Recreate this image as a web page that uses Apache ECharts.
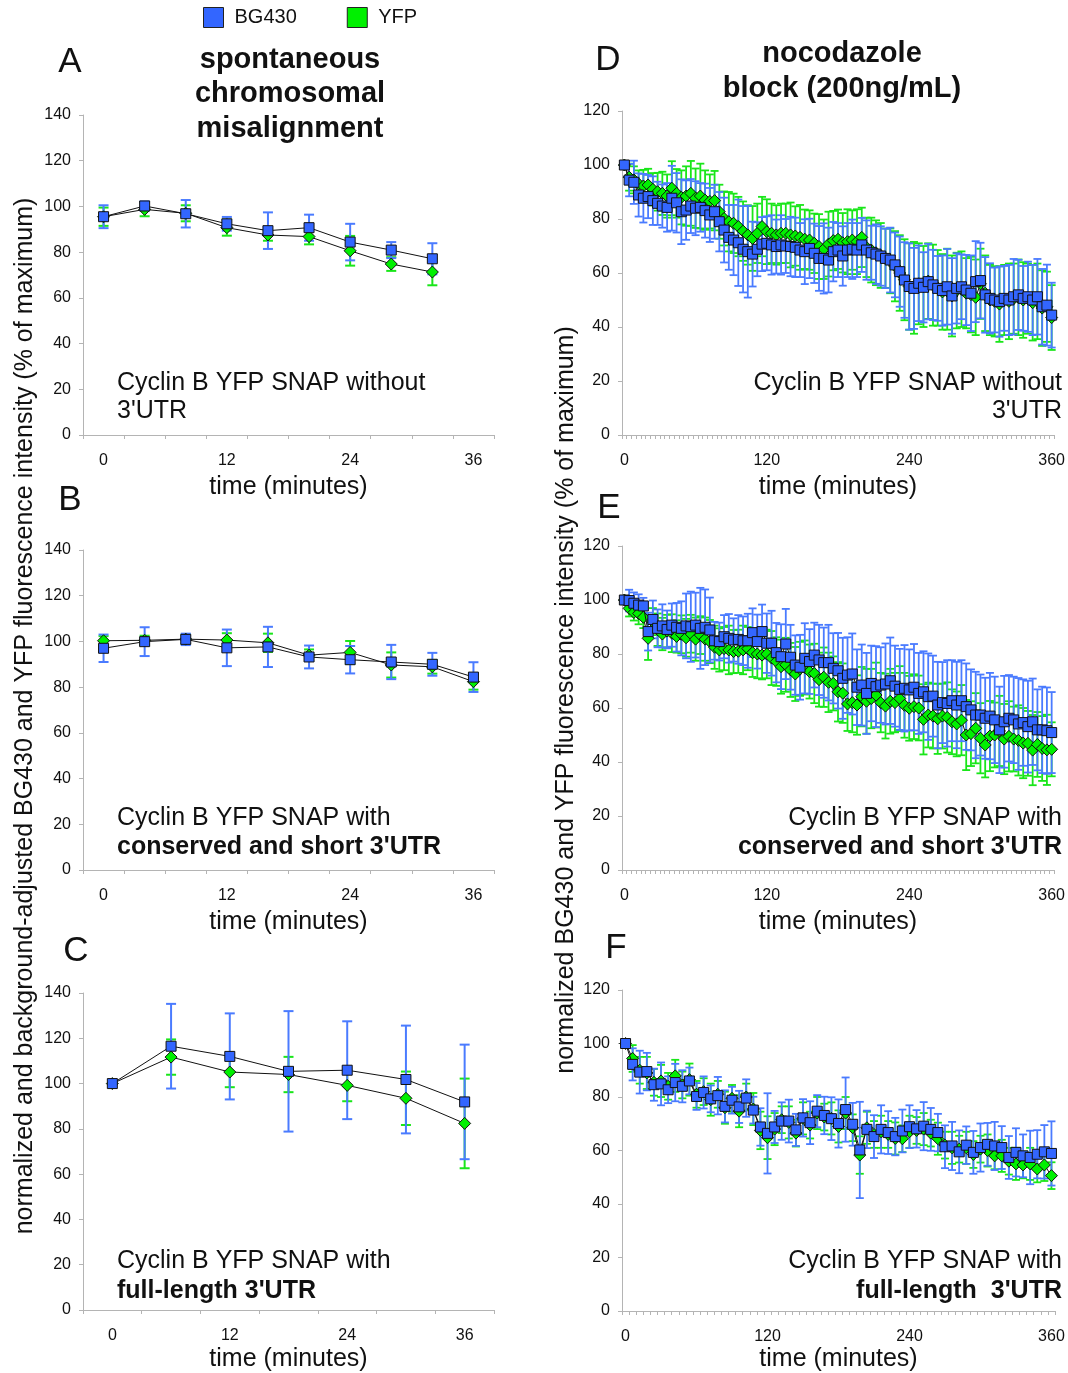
<!DOCTYPE html>
<html><head><meta charset="utf-8">
<script src="https://cdn.jsdelivr.net/npm/echarts@6/dist/echarts.min.js"></script>
<style>html,body{margin:0;padding:0;background:#fff}#c{width:1068px;height:1373px}</style>
</head><body><div id="c"></div><script>
// ---------- categories (tick labels) ----------
var timesAB = [0,4,8,12,16,20,24,28,32,36];
var timesC = [0,6,12,18,24,30,36];
var timesDE = [0,4,8,12,16,20,24,28,32,36,40,44,48,52,56,60,64,68,72,76,80,84,88,92,96,100,104,108,112,116,120,124,128,132,136,140,144,148,152,156,160,164,168,172,176,180,184,188,192,196,200,204,208,212,216,220,224,228,232,236,240,244,248,252,256,260,264,268,272,276,280,284,288,292,296,300,304,308,312,316,320,324,328,332,336,340,344,348,352,356,360];
var timesF = [0,6,12,18,24,30,36,42,48,54,60,66,72,78,84,90,96,102,108,114,120,126,132,138,144,150,156,162,168,174,180,186,192,198,204,210,216,222,228,234,240,246,252,258,264,270,276,282,288,294,300,306,312,318,324,330,336,342,348,354,360];

// ---------- panel A ----------
var blueA = [95.5,100.2,96.8,92.4,89.4,90.7,84.4,80.9,77.1];
var blueErrA = [5,2,6,3,8,5.7,8,3.5,6.8];
var greenA = [95.5,98.7,97,90.7,87.5,86.8,80.6,74.8,71.3];
var greenErrA = [4,3,3.5,3.5,2.5,3.4,6.5,3,5.8];
// ---------- panel B ----------
var blueB = [97,99.9,100.9,97.2,97.6,93.2,92,91,90,84.4];
var blueErrB = [6,6.3,2.5,8,8.8,5,6,7.5,5,6.5];
var greenB = [100.3,100.5,101,100.6,99.4,94,95.2,89.7,88.9,82.4];
var greenErrB = [2,2,2,3,4,2.5,5,5.5,3,3.5];
// ---------- panel C ----------
var blueC = [100,116.5,112,105.4,105.9,101.8,91.9];
var blueErrC = [0,18.7,19,26.6,21.6,23.8,25.3];
var greenC = [100,111.7,105.1,104,99.2,93.5,82.4];
var greenErrC = [0,7.8,6.7,7.8,7,11.8,19.8];
// ---------- panel D ----------
var blueD = [100,94.4,93.6,88.9,87.7,88.3,86.8,85.8,84.8,84.3,
87.7,86,82.7,83.3,84.8,84,84.3,83.1,81.5,82.7,
79,75.9,73.2,72.2,71.2,68.8,67.9,67,68.8,70.7,
71,70.4,69.8,70.4,70,69.8,69.5,68.5,67.9,69.1,
67.3,65.4,65.4,64.8,67.9,68.5,66.3,68.5,68.8,68.5,
70.4,68.5,67.5,67,66.3,65.4,64.8,63,60.5,57.4,
55,54.3,56.2,54.7,56.8,55.6,54.3,53.5,54.9,51.5,
54.3,54.9,53.7,52.5,56.8,57.2,51.9,50.6,50,49.4,
50.6,50,51.2,51.9,50.6,51.2,50,51.2,47.5,48.1,
44.4];
var blueErrD = [0,6,8,8,9,8,9,8,8,9,
12,11,12,11,10,10,9,10,10,10,
11,12,12,13,16,16,17,12,10,10,
10,11,10,11,10,11,11,10,12,11,
11,12,13,12,11,10,11,10,11,10,
10,11,10,11,11,11,12,12,13,14,
16,15,14,13,14,13,12,13,14,14,
13,12,13,14,15,14,14,13,12,13,
12,13,14,13,12,13,13,14,14,15,
12];
var greenD = [100,95.5,94.5,93,92.2,92.6,91,90.1,89.5,88.5,
91.4,89.5,88,88.5,89.5,87.7,88.5,87,86.5,86.8,
82.7,80.2,79,78.4,77.2,75.5,74.1,72.8,74.7,77.2,
75.3,74.7,74.1,74.7,74.7,74.1,73.7,73.2,72.5,72.2,
71,69.8,68.8,70.7,72,72.5,71.2,71.6,72.2,71.6,
73.2,69.5,68.5,67.5,66.5,65.5,64.5,62.5,60,57.5,
55,54.5,56,55,57,55.5,54.5,53,54,51.5,
53.5,54,52.5,52,51,56,52.5,50,49.5,48.5,
50,49.5,50.5,51,50,50.5,49,49.5,47,47.5,
43.5];
var greenErrD = [0,5,5,5,6,6,6,7,8,8,
10,9,10,11,12,11,12,11,10,11,
10,10,11,11,11,11,11,12,11,11,
12,11,11,11,11,12,11,12,11,11,
11,12,11,12,11,11,11,12,11,12,
11,11,12,12,12,11,12,13,14,15,
16,17,15,15,14,15,14,14,15,15,
14,14,13,14,14,13,14,13,13,14,
13,14,13,14,14,13,14,14,14,13,
12];
// ---------- panel E ----------
var blueE = [100,99.8,98.8,98.1,97.8,88.3,92.8,89.5,90.4,89.1,
90.7,89.9,89.5,90.4,90.1,90.7,89.5,89.9,88.9,84.9,
84.6,86.4,85.8,85.2,85.4,84.9,84.9,87.9,84.6,88.3,
84,84,80.5,79,83.7,78.8,75.9,75.1,78.4,77.2,
79.6,77.8,76.8,76.8,74.7,73.8,71,72.2,72.6,67.7,
68.5,65.4,69.1,67.9,68.5,68.9,70.1,68.1,66.9,67.3,
66.7,67.7,65.4,66,64.2,64.4,61.1,62,61.7,62.7,
61.1,62.7,60.5,59.3,57.4,57.4,56.2,57,55.6,51.9,
54.9,56.2,55.6,54.1,54.6,53.1,54.9,51.9,51.9,51.6,
50.9];
var blueErrE = [0,4,4,4,3,7,7,7,8,7,
8,9,10,12,13,12,15,14,12,7,
7,8,9,8,9,9,10,9,10,10,
11,12,11,12,13,12,11,12,13,12,
12,13,13,14,13,14,15,14,15,14,
15,15,14,15,14,15,16,15,15,16,
15,16,15,15,16,15,16,15,16,15,
16,15,16,15,16,15,15,16,16,16,
17,16,16,17,16,17,16,15,16,16,
15];
var greenE = [100,96.9,95.4,95,93.6,85.8,92,89,87.4,88.5,
87.7,86.5,87.3,86,87.5,85.5,87,85.5,84.6,82.5,
81.5,82,81.5,80.9,81,81.5,82,80.5,80,79.6,
80,78.5,77.2,75.3,76,74.1,72.6,74.5,75,73.5,
72.8,70.5,71.4,69.5,69.1,66,65.5,61.5,62,61.1,
64.2,62.5,63.5,64.8,62,60.7,62.5,62,63.5,61,
59.9,60.5,60,55.8,57.4,57,56,57,56.5,54.9,
54.1,55.5,50,50.5,52.5,48.8,46.3,49.6,50,51.5,
48.5,49.5,48.5,48,47,46.9,44.4,46.5,45,44.5,
44.7];
var greenErrE = [0,3,3,4,4,8,5,6,6,6,
7,6,7,7,7,8,7,8,8,8,
8,8,9,8,8,9,8,9,9,9,
9,10,9,10,10,10,10,10,10,10,
11,10,11,11,10,11,11,10,11,11,
11,12,11,12,11,12,12,11,12,12,
12,12,12,13,12,12,13,12,13,12,
12,13,13,12,13,13,12,13,12,13,
13,13,12,13,13,12,13,12,12,13,
10];
// ---------- panel F ----------
var blueF = [100,92.2,89.3,89.5,84.6,84.9,82.7,85.4,84,86,
80.2,81.7,79.3,80.5,76.5,78.8,76.3,79.6,75.1,68.8,
66.4,68.8,71,71,67.7,72.2,70.4,74.7,73.1,71.9,
70.1,75.3,69.8,60.2,67.9,65.2,67.9,66.7,65.2,67.3,
68.9,68.1,69.1,67.9,66.7,61.4,61.7,59.5,62,59.3,
61.1,62.3,61.7,61.1,57.4,59.3,58,57.4,58.6,59.5,
58.9];
var blueErrF = [0,6,8,7,6,8,5,7,6,5,
5,6,5,7,6,5,6,7,5,7,
15,6,7,8,6,7,8,6,7,8,
9,12,8,18,7,8,9,8,7,8,
8,7,9,8,7,8,9,8,7,8,
9,8,9,8,8,9,8,10,9,10,
12];
var greenF = [100,94.4,90,89,85.5,86,84,87.9,84.5,86.5,
81,82,79,81,76,79.5,74.7,80,75.5,67.5,
64.8,68,71.5,70.5,66.5,72,69.5,74,72.5,72,
69,74,68.5,58.3,68.5,66,67,66,64.5,64.4,
67,67.5,68,66.5,64.4,62,61,60.5,61,58.5,
60.5,60,58,58,56,55,54.6,55,53.1,54.6,
50.6];
var greenErrF = [0,5,5,6,5,6,5,6,5,6,
5,5,6,5,6,5,6,5,6,7,
8,6,5,6,5,6,5,6,5,6,
6,6,5,7,6,5,6,5,6,5,
6,5,6,5,6,5,6,5,6,5,
5,6,5,6,5,6,5,6,5,6,
5];

var FONT = '"Liberation Sans", Arial, Helvetica, sans-serif';
var BLUE = '#3366ff', BLUE_BAR = '#4a7bff', GREEN = '#00f000', GREEN_BAR = '#19e619';

var panels = [
  {cats: timesAB, b: blueA, be: blueErrA, g: greenA, ge: greenErrA, left: 83, top: 115, w: 411, h: 320, max: 140, li: 2, cap: 5, lw: 2, ng: 40, ms: 10},
  {cats: timesAB, b: blueB, be: blueErrB, g: greenB, ge: greenErrB, left: 83, top: 550, w: 411, h: 320, max: 140, li: 2, cap: 5, lw: 2, ng: 40, ms: 10},
  {cats: timesC, b: blueC, be: blueErrC, g: greenC, ge: greenErrC, left: 83, top: 993, w: 411, h: 320, max: 140, li: 1, cap: 5, lw: 2, ng: 37, ms: 10},
  {cats: timesDE, b: blueD, be: blueErrD, g: greenD, ge: greenErrD, left: 622, top: 111, w: 433, h: 324, max: 120, li: 29, cap: 4, lw: 1.8, ng: 40, ms: 10},
  {cats: timesDE, b: blueE, be: blueErrE, g: greenE, ge: greenErrE, left: 622, top: 546, w: 433, h: 324, max: 120, li: 29, cap: 4, lw: 1.8, ng: 40, ms: 10},
  {cats: timesF, b: blueF, be: blueErrF, g: greenF, ge: greenErrF, left: 622, top: 990, w: 433, h: 324, max: 120, li: 19, cap: 4, lw: 1.8, ng: 36, ms: 10}
];

function errRender(color, cap, lw) {
  return function (params, api) {
    var x = api.value(0), v = api.value(1), e = api.value(2);
    if (!e) return {type: 'group', children: []};
    var t = api.coord([x, v + e]), b = api.coord([x, v - e]);
    var px = t[0];
    var st = {stroke: color, lineWidth: lw};
    return {type: 'group', children: [
      {type: 'line', shape: {x1: px, y1: t[1], x2: px, y2: b[1]}, style: st},
      {type: 'line', shape: {x1: px - cap, y1: t[1], x2: px + cap, y2: t[1]}, style: st},
      {type: 'line', shape: {x1: px - cap, y1: b[1], x2: px + cap, y2: b[1]}, style: st}
    ]};
  };
}

var grids = [], xAxes = [], yAxes = [], series = [];
panels.forEach(function (p, i) {
  grids.push({left: p.left, top: p.top, width: p.w, height: p.h, containLabel: false});
  xAxes.push({
    type: 'category', gridIndex: i, data: p.cats.map(String), boundaryGap: true,
    axisLine: {onZero: false, lineStyle: {color: '#b4b4b4', width: 1}},
    axisTick: {show: true, interval: 0, length: 4, lineStyle: {color: '#b4b4b4'}},
    axisLabel: {interval: p.li, fontSize: 16, color: '#111', margin: 18, fontFamily: FONT},
    splitLine: {show: false},
    name: 'time (minutes)', nameLocation: 'middle', nameGap: p.ng,
    nameTextStyle: {fontSize: 25, color: '#111', fontFamily: FONT}
  });
  yAxes.push({
    type: 'value', gridIndex: i, min: 0, max: p.max, interval: 20,
    axisLine: {show: true, lineStyle: {color: '#b4b4b4', width: 1}},
    axisTick: {show: true, length: 4, lineStyle: {color: '#b4b4b4'}},
    axisLabel: {fontSize: 16, color: '#111', margin: 12, fontFamily: FONT},
    splitLine: {show: false}
  });
  var mk = function (vals, errs) { return vals.map(function (v, k) { return [k, v, errs[k]]; }); };
  series.push({
    type: 'custom', name: 'YFP err', xAxisIndex: i, yAxisIndex: i, z: 1,
    renderItem: errRender(GREEN_BAR, p.cap, p.lw), encode: {x: 0, y: 1},
    data: mk(p.g, p.ge), silent: true
  });
  series.push({
    type: 'custom', name: 'BG430 err', xAxisIndex: i, yAxisIndex: i, z: 1,
    renderItem: errRender(BLUE_BAR, p.cap, p.lw), encode: {x: 0, y: 1},
    data: mk(p.b, p.be), silent: true
  });
  series.push({
    type: 'line', name: 'YFP', xAxisIndex: i, yAxisIndex: i, z: 3,
    data: p.g, symbol: 'diamond', symbolSize: p.ms + 2, showAllSymbol: true,
    lineStyle: {color: '#111', width: 1},
    itemStyle: {color: GREEN, borderColor: '#111', borderWidth: 1}
  });
  series.push({
    type: 'line', name: 'BG430', xAxisIndex: i, yAxisIndex: i, z: 4,
    data: p.b, symbol: 'rect', symbolSize: p.ms, showAllSymbol: true,
    lineStyle: {color: '#111', width: 1},
    itemStyle: {color: BLUE, borderColor: '#111', borderWidth: 1}
  });
});

function txt(s, x, y, size, opts) {
  opts = opts || {};
  return {
    type: 'text', x: x, y: y, rotation: opts.rot || 0, silent: true,
    style: {
      text: s, fill: '#111', textAlign: opts.align || 'left', textVerticalAlign: 'middle',
      font: (opts.bold ? 'bold ' : '') + size + 'px ' + FONT
    }
  };
}

var graphics = [
  txt('A', 70, 62, 35, {align: 'center'}),
  txt('B', 70, 500, 35, {align: 'center'}),
  txt('C', 76, 951, 35, {align: 'center'}),
  txt('D', 608, 60, 35, {align: 'center'}),
  txt('E', 609, 508, 35, {align: 'center'}),
  txt('F', 616, 948, 35, {align: 'center'}),
  txt('spontaneous', 290, 60, 29, {align: 'center', bold: true}),
  txt('chromosomal', 290, 94, 29, {align: 'center', bold: true}),
  txt('misalignment', 290, 129, 29, {align: 'center', bold: true}),
  txt('nocodazole', 842, 54, 29, {align: 'center', bold: true}),
  txt('block (200ng/mL)', 842, 89, 29, {align: 'center', bold: true}),
  txt('Cyclin B YFP SNAP without', 117, 383, 25),
  txt("3'UTR", 117, 411, 25),
  txt('Cyclin B YFP SNAP with', 117, 818, 25),
  txt("conserved and short 3'UTR", 117, 847, 25, {bold: true}),
  txt('Cyclin B YFP SNAP with', 117, 1261, 25),
  txt("full-length 3'UTR", 117, 1291, 25, {bold: true}),
  txt('Cyclin B YFP SNAP without', 1062, 383, 25, {align: 'right'}),
  txt("3'UTR", 1062, 411, 25, {align: 'right'}),
  txt('Cyclin B YFP SNAP with', 1062, 818, 25, {align: 'right'}),
  txt("conserved and short 3'UTR", 1062, 847, 25, {align: 'right', bold: true}),
  txt('Cyclin B YFP SNAP with', 1062, 1261, 25, {align: 'right'}),
  txt("full-length  3'UTR", 1062, 1291, 25, {align: 'right', bold: true}),
  txt('normalized and background-adjusted BG430 and YFP fluorescence intensity (% of maximum)', 25, 716, 25, {align: 'center', rot: Math.PI / 2}),
  txt('normalized BG430 and YFP fluorescence intensity (% of maximum)', 566, 700, 25, {align: 'center', rot: Math.PI / 2})
];

var chart = echarts.init(document.getElementById('c'), null, {renderer: 'canvas'});
chart.setOption({
  animation: false,
  backgroundColor: '#fff',
  textStyle: {fontFamily: FONT},
  legend: {
    left: 198, top: 2, itemWidth: 20, itemHeight: 20, itemGap: 50,
    textStyle: {fontSize: 20, color: '#111', fontFamily: FONT, padding: [0, 0, 0, 6]},
    data: [
      {name: 'BG430', icon: 'rect', itemStyle: {color: BLUE, borderColor: '#222', borderWidth: 1}},
      {name: 'YFP', icon: 'rect', itemStyle: {color: GREEN, borderColor: '#222', borderWidth: 1}}
    ],
    selectedMode: false
  },
  grid: grids, xAxis: xAxes, yAxis: yAxes, series: series,
  graphic: graphics
});
</script></body></html>
